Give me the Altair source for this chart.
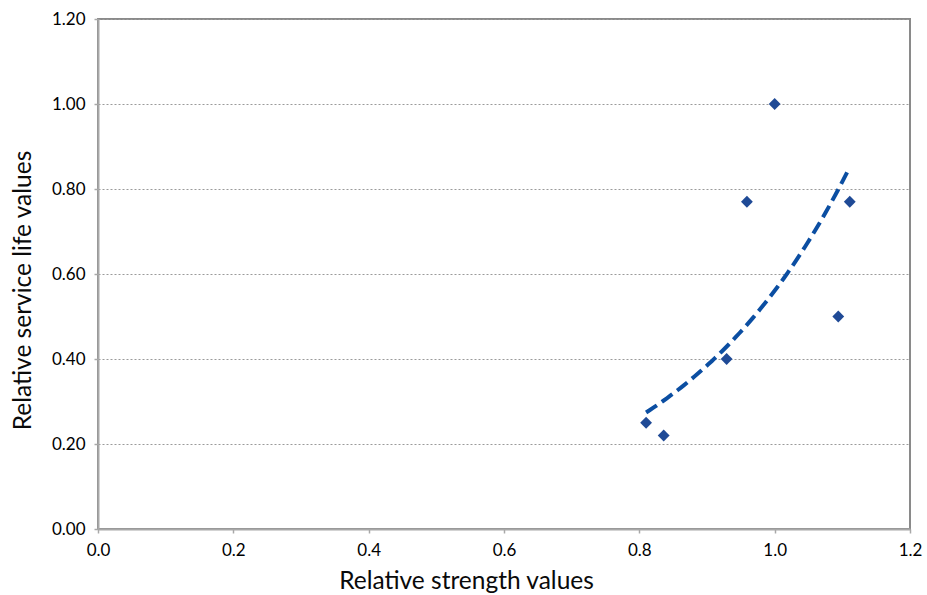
import numpy as np
import pandas as pd
import altair as alt

# Measured pairs
strength = [0.81, 0.836, 0.929, 0.959, 1.0, 1.094, 1.111]
service_life = [0.25, 0.22, 0.40, 0.77, 1.00, 0.50, 0.77]

x_ticks = [0.0, 0.2, 0.4, 0.6, 0.8, 1.0, 1.2]
y_ticks = [0.0, 0.2, 0.4, 0.6, 0.8, 1.0, 1.2]

points = pd.DataFrame({"strength": strength, "life": service_life})

# Exponential trendline (least squares on ln y), drawn across the data range
b, ln_a = np.polyfit(np.array(strength), np.log(np.array(service_life)), 1)
xs = np.linspace(min(strength), max(strength), 60)
trend = pd.DataFrame({"strength": xs, "life": np.exp(ln_a + b * xs)})

FONT = "Lato"

x_enc = alt.X(
    "strength:Q",
    scale=alt.Scale(domain=[0, 1.2], nice=False, zero=False),
    axis=alt.Axis(
        values=x_ticks,
        format=".1f",
        title="Relative strength values",
        grid=False,
        labelFlush=False,
        labelPadding=9,
        titleX=368,
        titleY=59,
        titleAlign="center",
        titleBaseline="alphabetic",
    ),
)
y_enc = alt.Y(
    "life:Q",
    scale=alt.Scale(domain=[0, 1.2], nice=False, zero=False),
    axis=alt.Axis(
        values=y_ticks,
        format=".2f",
        title="Relative service life values",
        grid=True,
        gridDash=[2, 2],
        gridColor="#9a9a9a",
        gridWidth=1,
        labelFlush=False,
        labelPadding=9,
        titleAngle=270,
        titleX=-75,
        titleY=271,
        titleAlign="center",
        titleBaseline="middle",
    ),
)

scatter = alt.Chart(points).mark_point(
    shape="diamond", filled=True, size=140, color="#1F4A96", opacity=1
).encode(x=x_enc, y=y_enc)

line = alt.Chart(trend).mark_line(
    color="#0B4EA2", strokeWidth=4, strokeDash=[13, 6]
).encode(x="strength:Q", y="life:Q")

chart = (
    alt.layer(line, scatter)
    .properties(
        width=812,
        height=510,
        autosize=alt.AutoSizeParams(type="none"),
        padding={"left": 98, "top": 19, "right": 17, "bottom": 66},
        background="white",
    )
    .configure_view(stroke="#8a8a8a", strokeWidth=2)
    .configure_axis(
        labelFont=FONT,
        titleFont=FONT,
        labelFontSize=17,
        labelColor="#000000",
        titleFontSize=24.5,
        titleFontWeight="normal",
        titleColor="#0a0a0a",
        domainColor="#a8a8a8",
        domainWidth=2,
        tickColor="#a8a8a8",
        tickSize=4,
        tickWidth=1.5,
    )
)

chart.save("out.html", embed_options={"renderer": "svg", "actions": False})
